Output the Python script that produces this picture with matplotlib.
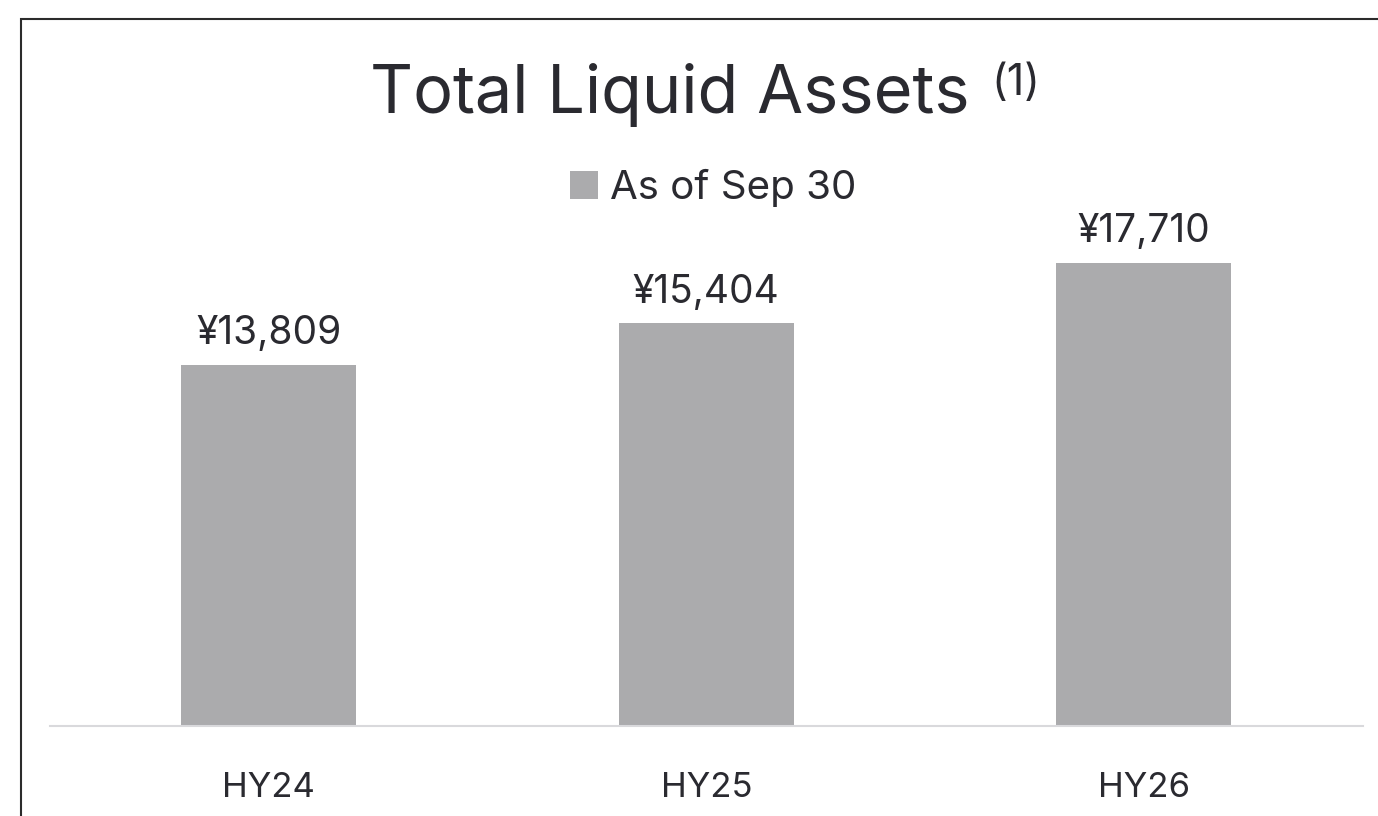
import matplotlib.pyplot as plt
from matplotlib.patches import Rectangle

categories = ["HY24", "HY25", "HY26"]
values = [13809, 15404, 17710]
value_labels = ["¥13,809", "¥15,404", "¥17,710"]
series_name = "As of Sep 30"

bar_color = '#ababad'
text_color = '#2a2a30'

plt.rcParams['font.family'] = ['Inter', 'DejaVu Sans']

fig = plt.figure(figsize=(13.78, 8.16), dpi=100)
W, H = 1378, 816

# plot area: baseline at y=726px, categories span 50..1363px
ax = fig.add_axes([50 / W, (H - 726) / H, 1312.5 / W, (726 - 240) / H])
x = range(len(categories))
bars = ax.bar(x, values, width=0.4, color=bar_color, label=series_name, zorder=2)
ax.set_xlim(-0.5, 2.5)
ax.set_ylim(0, 486 * 38.25)

for i, v in enumerate(values):
    ax.annotate(value_labels[i], (i, v), xytext=(0, 9), textcoords='offset points',
                ha='center', va='bottom', fontsize=28, color=text_color)

ax.set_xticks(list(x))
ax.set_xticklabels(categories, fontsize=25, color=text_color)
ax.tick_params(axis='x', length=0, pad=33)
ax.set_yticks([])
for s in ['top', 'right', 'left']:
    ax.spines[s].set_visible(False)
ax.spines['bottom'].set_color('#d9d9dc')
ax.spines['bottom'].set_linewidth(1.5)
ax.patch.set_alpha(0)

# title with superscript note mark
title = fig.text(370 / W, 1 - 113 / H, "Total Liquid Assets", fontsize=48,
                 color=text_color, ha='left', va='baseline')
fig.canvas.draw()
bb = title.get_window_extent(renderer=fig.canvas.get_renderer())
fig.text((bb.x1 + 22) / W, 1 - 95 / H, "(1)", fontsize=31, color=text_color,
         ha='left', va='baseline')

fig.legend(handles=[bars], labels=[series_name], loc='center', bbox_to_anchor=(713 / W, 1 - 188 / H),
           frameon=False, fontsize=29, handlelength=0.7, handleheight=0.7,
           handletextpad=0.3, labelcolor=text_color)

# frame around the slide (cut at right and bottom)
fig.patches.append(Rectangle((21 / W, -0.1), 1.2, 1 - 19 / H + 0.1, transform=fig.transFigure,
                             fill=False, edgecolor='#2b2b2b', linewidth=1.5))

plt.savefig("out.png", dpi=100)
plt.close('all')
